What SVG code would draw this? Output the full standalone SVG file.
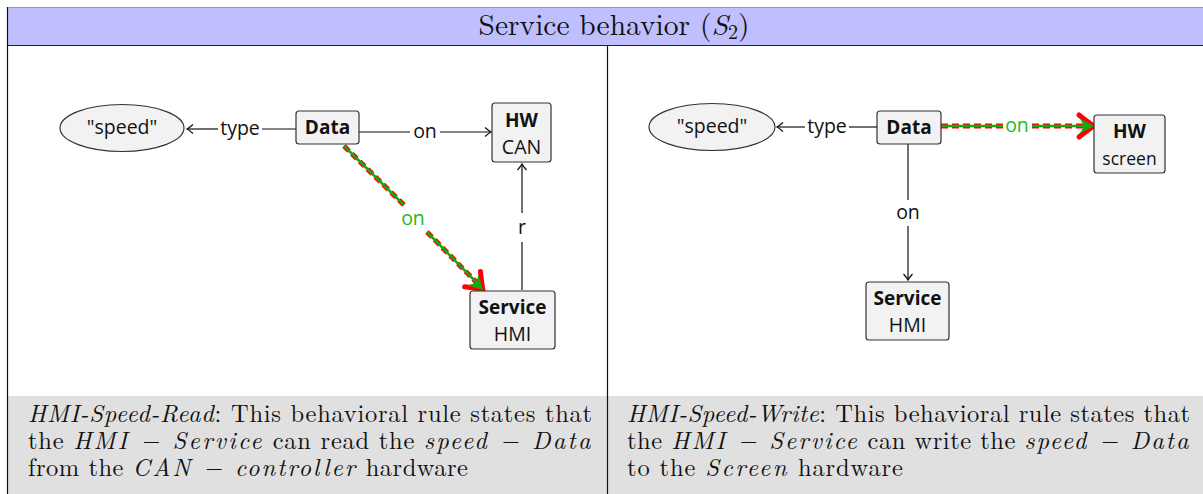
<svg xmlns="http://www.w3.org/2000/svg" width="1203" height="494" viewBox="0 0 1203 494">
<style>
.node{fill:#f2f2f2;stroke:#333;stroke-width:1.2}
.lbl{font-family:"Open Sans","DejaVu Sans",sans-serif;font-size:19.5px;fill:#111;text-anchor:middle}
.b{font-weight:bold;font-size:19px}
.edge{stroke:#111;stroke-width:1.2;fill:none}
.red{stroke:#ff0000;stroke-width:5;stroke-dasharray:7 4;fill:none}
.grn{stroke:#11aa11;stroke-width:2.5;fill:none}
.glbl{font-family:"Open Sans","DejaVu Sans",sans-serif;font-size:19.5px;fill:#22bb22;text-anchor:middle}
.cap{font-family:"Latin Modern Roman","Liberation Serif","DejaVu Serif",serif;font-size:24.5px;fill:#111}
.it{font-style:italic}
.m{font-style:italic;letter-spacing:1.5px}
</style>
<defs>
<marker id="ah" markerWidth="12" markerHeight="12" refX="0" refY="0" viewBox="-10 -6 12 12" orient="auto" markerUnits="userSpaceOnUse">
<path d="M-6,-4.5 Q-2,-1 0,0 Q-2,1 -6,4.5" fill="none" stroke="#111" stroke-width="1.3"/>
</marker>
<g id="bigarrow">
<path d="M-15,-11 Q-5,-3 0,0 Q-5,3 -15,11" fill="none" stroke="#ff0000" stroke-width="5" stroke-linecap="round"/>
<path d="M-14,-7.5 L0,0 L-14,7.5 L-10,0 Z" fill="#11aa11"/>
</g>
</defs>
<rect x="0" y="0" width="1203" height="494" fill="#fff"/>
<!-- frame -->
<rect x="7" y="7" width="1196" height="38" fill="#bfbfff"/>
<line x1="7" y1="7.5" x2="1203" y2="7.5" stroke="#999" stroke-width="1"/>
<line x1="7" y1="45.5" x2="1203" y2="45.5" stroke="#222" stroke-width="1.2"/>
<rect x="8" y="396" width="1195" height="98" fill="#e0e0e0"/>
<line x1="7.5" y1="7" x2="7.5" y2="494" stroke="#111" stroke-width="1.2"/>
<line x1="607.5" y1="45" x2="607.5" y2="494" stroke="#111" stroke-width="1.2"/>
<text x="614" y="35" text-anchor="middle" class="cap" style="font-size:29.5px">Service behavior (<tspan class="it">S</tspan><tspan font-size="20" dy="4">2</tspan><tspan dy="-4">)</tspan></text>

<!-- connectors -->
<g id="connectors">
<!-- left panel -->
<line class="edge" x1="296" y1="129" x2="262" y2="129"/>
<line class="edge" x1="218" y1="129" x2="187" y2="129" marker-end="url(#ah)"/>
<text class="lbl" x="240" y="135">type</text>
<line class="edge" x1="359" y1="132" x2="410" y2="132"/>
<line class="edge" x1="440" y1="132" x2="491" y2="132" marker-end="url(#ah)"/>
<text class="lbl" x="425" y="138">on</text>
<line class="edge" x1="522" y1="290" x2="522" y2="242"/>
<line class="edge" x1="522" y1="213" x2="522" y2="164" marker-end="url(#ah)"/>
<text class="lbl" x="522" y="234">r</text>
<path class="red" d="M344,146 L404,205 M427,232 L478,284"/>
<path class="grn" d="M344,146 L404,205 M427,232 L478,284"/>
<use href="#bigarrow" transform="translate(483,290) rotate(46)"/>
<text class="glbl" x="413" y="225">on</text>
<!-- right panel -->
<line class="edge" x1="877" y1="127" x2="849" y2="127"/>
<line class="edge" x1="805" y1="127" x2="777" y2="127" marker-end="url(#ah)"/>
<text class="lbl" x="827" y="133">type</text>
<line class="edge" x1="908" y1="144" x2="908" y2="200"/>
<line class="edge" x1="908" y1="226" x2="908" y2="280" marker-end="url(#ah)"/>
<text class="lbl" x="908" y="219">on</text>
<path class="red" d="M941,126 L1003,126 M1032,126 L1087,126"/>
<path class="grn" d="M941,126 L1003,126 M1032,126 L1087,126"/>
<use href="#bigarrow" transform="translate(1094,126)"/>
<text class="glbl" x="1017" y="132">on</text>
</g>

<!-- left nodes -->
<g id="speed-left">
<ellipse class="node" cx="122" cy="128" rx="62" ry="23.5"/>
<text class="lbl" x="122" y="134">"speed"</text>
</g>
<g id="data-left">
<rect class="node" x="296" y="111" width="63" height="33" rx="3"/>
<text class="lbl b" x="327.5" y="134">Data</text>
</g>
<g id="hw-can">
<rect class="node" x="492" y="103" width="59" height="59" rx="3"/>
<text class="lbl b" x="521.5" y="127">HW</text>
<text class="lbl" x="521.5" y="154">CAN</text>
</g>
<g id="service-left">
<rect class="node" x="470" y="291" width="85" height="58" rx="3"/>
<text class="lbl b" x="512.5" y="314">Service</text>
<text class="lbl" x="512.5" y="341">HMI</text>
</g>

<!-- right nodes -->
<g id="speed-right">
<ellipse class="node" cx="712" cy="127" rx="63" ry="23.5"/>
<text class="lbl" x="712" y="133">"speed"</text>
</g>
<g id="data-right">
<rect class="node" x="877" y="111" width="64" height="33" rx="3"/>
<text class="lbl b" x="909" y="134">Data</text>
</g>
<g id="hw-screen">
<rect class="node" x="1094" y="115" width="71" height="58" rx="3"/>
<text class="lbl b" x="1129.5" y="138">HW</text>
<text class="lbl" x="1129.5" y="165" style="font-size:17.5px">screen</text>
</g>
<g id="service-right">
<rect class="node" x="866" y="282" width="83" height="58" rx="3"/>
<text class="lbl b" x="907.5" y="305">Service</text>
<text class="lbl" x="907.5" y="332">HMI</text>
</g>

<!-- captions -->
<g id="caption-left">
<text class="cap" x="28" y="422" textLength="564" lengthAdjust="spacing"><tspan class="it">HMI-Speed-Read</tspan>: This behavioral rule states that</text>
<text class="cap" x="28" y="449" textLength="564" lengthAdjust="spacing">the <tspan class="m">HMI − Service</tspan> can read the <tspan class="m">speed − Data</tspan></text>
<text class="cap" x="28" y="476" textLength="440" lengthAdjust="spacing">from the <tspan class="m">CAN − controller</tspan> hardware</text>
</g>
<g id="caption-right">
<text class="cap" x="627" y="422" textLength="563" lengthAdjust="spacing"><tspan class="it">HMI-Speed-Write</tspan>: This behavioral rule states that</text>
<text class="cap" x="627" y="449" textLength="563" lengthAdjust="spacing">the <tspan class="m">HMI − Service</tspan> can write the <tspan class="m">speed − Data</tspan></text>
<text class="cap" x="627" y="476" textLength="276" lengthAdjust="spacing">to the <tspan class="m">Screen</tspan> hardware</text>
</g>
</svg>
